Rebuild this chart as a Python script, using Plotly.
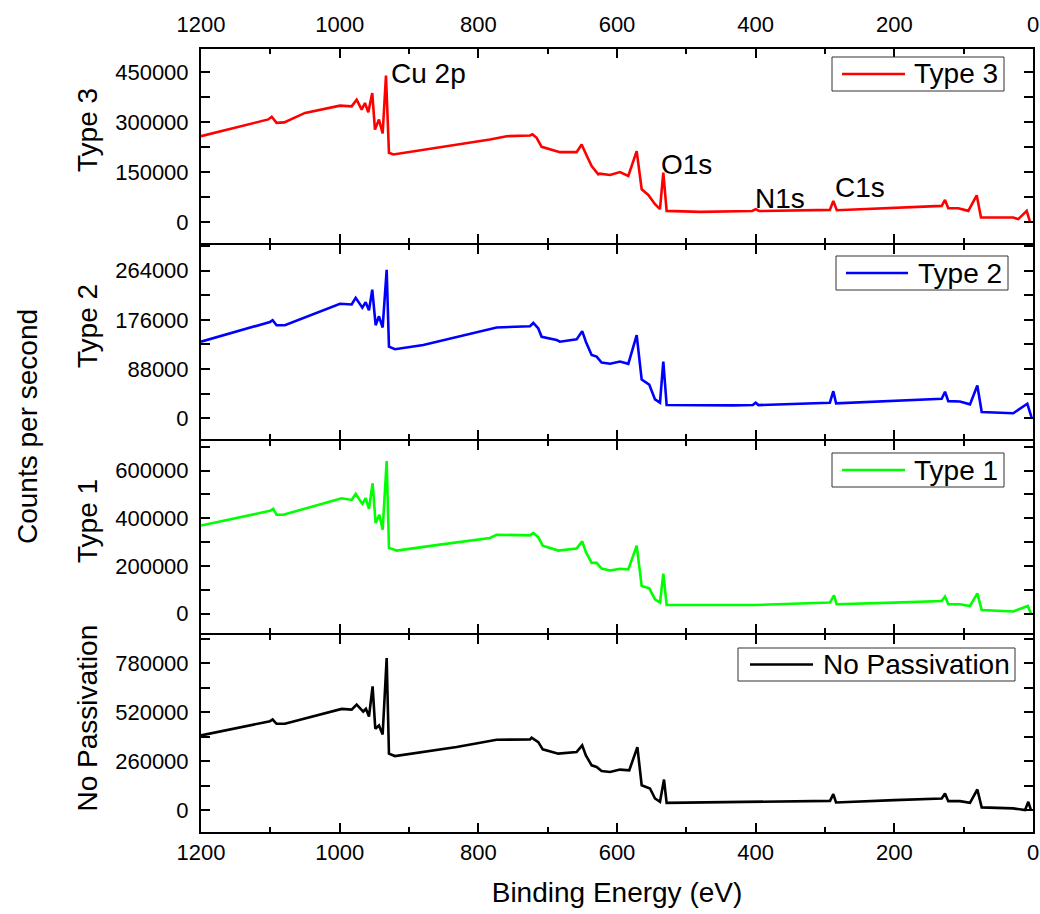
import plotly.graph_objects as go

# ---- XPS survey spectra (binding energy in eV, counts per second) ----
type3_ev = [1200, 1150, 1103, 1098, 1091, 1080, 1050, 999.5, 982.7, 975.5, 968.3, 963.5,
            958.7, 953, 949.1, 943.3, 938, 933.2, 928.9, 922.6, 850, 783.2, 759.1, 725.5,
            722, 715.9, 708.7, 682.3, 658.3, 651, 643.8, 636.6, 627, 625, 610, 595.7, 583.7,
            571.6, 564.4, 554.8, 545.2, 538, 533.2, 528.4, 480, 405, 400, 395, 293, 288,
            283, 200, 131.7, 126.9, 122.2, 107.7, 93.3, 81.2, 75, 28.4, 21.2, 9.1, 4.3]
type3_cps = [257500, 283000, 308000, 316000, 297600, 299000, 327500, 349400, 347300, 367400,
             337400, 357500, 329300, 387400, 277500, 307500, 265600, 440000, 207800, 202700,
             225700, 247600, 257500, 259600, 263000, 252700, 225700, 209600, 209600, 232600,
             199700, 167700, 142800, 145000, 140700, 149700, 137700, 212600, 97900, 80800,
             53000, 38000, 147900, 32900, 30000, 32500, 38000, 32500, 36000, 62900, 35000,
             42000, 47900, 65900, 41000, 41000, 32900, 79900, 13200, 13200, 8100, 32900, 0]

type2_ev = [1200, 1150, 1100.5, 1096.7, 1091, 1079, 1014, 999.5, 982.7, 976.9, 967.3, 962.5,
            957.7, 953, 948.1, 943.3, 938, 932.2, 928.9, 920.3, 879.4, 807.3, 773.6, 725.5,
            720.7, 713.5, 708.7, 687, 682.3, 658.3, 650.2, 644.9, 636.6, 629.4, 622.2, 610,
            595.7, 583.7, 571.6, 564.4, 553.5, 545.2, 538, 533.2, 528.4, 432, 404, 400, 396,
            293, 288, 284, 200, 131.7, 126.9, 122.2, 105.4, 90.9, 80.3, 74, 28.4, 8.2, 2]
type2_cps = [136900, 154600, 172300, 175300, 166400, 166400, 198900, 204800, 203600, 215500,
             197800, 207700, 193000, 230200, 166400, 182400, 162400, 265600, 128000, 123400,
             131000, 151700, 162400, 164700, 170500, 160600, 145700, 139900, 136900, 141100,
             155800, 136900, 113300, 110300, 99700, 97400, 101500, 97400, 148700, 69100,
             60200, 33600, 27800, 101500, 23600, 23000, 23500, 27800, 23500, 27800, 48300,
             26600, 31300, 34900, 47300, 30600, 30000, 24800, 58400, 11200, 8900, 26000, 1200]

type1_ev = [1200, 1150, 1100.5, 1095.8, 1091, 1081.4, 1014, 997.1, 982.7, 976.9, 967.3, 962.5,
            957.7, 952.5, 948.1, 942.8, 938, 932.2, 928.9, 917.8, 855.3, 783.2, 773.6, 725.5,
            720.7, 713.5, 707.1, 684.6, 658.3, 650.2, 644.9, 636.6, 629.4, 622.2, 610, 595.7,
            583.7, 571.6, 564.4, 553.5, 545.2, 538, 533.2, 528.4, 400, 292.8, 287, 283.2,
            200, 131.7, 126.9, 122.2, 105.4, 90.9, 80.3, 74, 28.4, 7.6, 2.9]
type1_cps = [369900, 400800, 431300, 439700, 414600, 414600, 470100, 484300, 477200, 502300,
             460500, 484300, 439700, 547000, 379900, 414600, 352000, 640100, 275600, 264300,
             289300, 317300, 331100, 328200, 338200, 319800, 285200, 264300, 272600, 303100,
             258900, 212900, 212900, 189100, 180800, 187900, 185000, 285200, 115200, 105600,
             59700, 45900, 167000, 35900, 35900, 45900, 76400, 38800, 45900, 52600, 71000,
             38800, 38800, 31700, 84800, 15000, 8400, 31700, 0]

nopass_ev = [1200, 1150, 1100.5, 1096.7, 1091, 1079, 997.1, 982.7, 975.5, 966, 962.1, 957.7,
             952.5, 948.6, 943.3, 938, 932.2, 928.9, 920.3, 831.3, 773.6, 725.5, 723.1, 713.5,
             707.1, 684.6, 658.3, 650.2, 644.9, 636.6, 629.4, 622.2, 610, 595.7, 582.3, 570.6,
             564.4, 552.4, 545.2, 538, 532.2, 528.4, 292.8, 288, 284.1, 200, 131.7, 126.9,
             122.2, 105.4, 90.9, 80.3, 74, 28.4, 11.5, 6.8, 2.9]
nopass_cps = [396300, 435000, 471900, 480900, 458200, 458200, 537400, 533700, 560200, 523200,
              537400, 496800, 656900, 431700, 449200, 401600, 806900, 299600, 287000, 334500,
              373600, 375200, 384200, 361000, 322400, 299600, 308100, 343500, 290700, 237800,
              228800, 207700, 202400, 215100, 211400, 334500, 132100, 114700, 61800, 43900,
              162200, 38600, 49100, 84600, 40700, 52800, 61800, 88300, 47600, 47600, 38600,
              109400, 14300, 9000, 0, 43900, 0]

# panel order from top to bottom
series_names = ["Type 3", "Type 2", "Type 1", "No Passivation"]
series_colors = ["#FF0000", "#0000FF", "#00FF00", "#000000"]
series_ev = [type3_ev, type2_ev, type1_ev, nopass_ev]
series_cps = [type3_cps, type2_cps, type1_cps, nopass_cps]

y_tickvals = [[0, 150000, 300000, 450000],
              [0, 88000, 176000, 264000],
              [0, 200000, 400000, 600000],
              [0, 260000, 520000, 780000]]
y_ranges = [[-63700, 519800], [-37200, 310000], [-81900, 724700], [-116200, 929500]]
x_tickvals = [0, 200, 400, 600, 800, 1000, 1200]

peak_labels = ["Cu 2p", "O1s", "N1s", "C1s"]
peak_label_ev = [929, 539, 404, 289]
peak_label_cps = [445000, 172000, 71000, 103000]

FONT = "Arial, Liberation Sans, sans-serif"
W, H = 1040, 914
L, R, T, B = 201, 7, 49, 82
plot_h = H - T - B
# shared edges are shifted by 1px so neighbouring frame lines coincide
panel_px = [(49, 243), (245, 439), (441, 633), (635, 832)]

# legend boxes: (left, top, right, bottom) in px, sample line (x0, x1), text x
legend_boxes = [(832, 57, 1004, 91), (836, 256, 1008, 290),
                (832, 453, 1004, 487), (738, 648, 1015, 681)]
legend_lines = [(842, 905), (846, 908), (842, 905), (750, 813)]
legend_text_x = [912, 916, 912, 821]


def py(px):
    return (H - B - px) / plot_h


def px_x(px):
    return (px - L) / (W - L - R)


fig = go.Figure()

for i in range(4):
    n = i + 1
    sfx = "" if n == 1 else str(n)
    fig.add_trace(go.Scatter(
        x=series_ev[i], y=series_cps[i], mode="lines", name=series_names[i],
        line=dict(color=series_colors[i], width=2.6),
        xaxis="x" + sfx, yaxis="y" + sfx, showlegend=False,
    ))
    top, bot = panel_px[i]
    xa = dict(
        domain=[0, 1], anchor="y" + sfx, range=[1200, 0], automargin=False,
        tickvals=x_tickvals, ticks="inside", ticklen=9, tickwidth=2,
        minor=dict(dtick=100, tick0=0, ticks="inside", ticklen=5, tickwidth=2,
                   tickcolor="black", showgrid=False),
        showline=True, linewidth=2, linecolor="black", mirror="allticks",
        showgrid=False, zeroline=False, tickcolor="black",
        tickfont=dict(family=FONT, size=22, color="black"),
        showticklabels=(n in (1, 4)), side="top" if n == 1 else "bottom",
        ticklabelstandoff=6 if n == 1 else 0,
    )
    if n == 4:
        xa["title"] = dict(text="Binding Energy (eV)", font=dict(family=FONT, size=28, color="black"),
                           standoff=18)
    ya = dict(
        domain=[py(bot), py(top)], anchor="x" + sfx, range=y_ranges[i], automargin=False,
        tickvals=y_tickvals[i], tickformat="d", ticks="inside", ticklen=9, tickwidth=2,
        minor=dict(dtick=y_tickvals[i][1] / 2, tick0=0, ticks="inside", ticklen=9, tickwidth=2,
                   tickcolor="black", showgrid=False),
        showline=True, linewidth=2, linecolor="black", mirror="allticks",
        showgrid=False, zeroline=False, tickcolor="black",
        tickfont=dict(family=FONT, size=22, color="black"),
        ticklabelstandoff=6,
    )
    fig.layout["xaxis" + sfx] = xa
    fig.layout["yaxis" + sfx] = ya

    # per-panel legend box
    bl, bt, br, bb = legend_boxes[i]
    fig.add_shape(type="rect", xref="paper", yref="paper",
                  x0=px_x(bl), x1=px_x(br), y0=py(bb), y1=py(bt),
                  line=dict(color="#333333", width=1), fillcolor="white", layer="above")
    ymid = (bt + bb) / 2
    lx0, lx1 = legend_lines[i]
    fig.add_shape(type="line", xref="paper", yref="paper",
                  x0=px_x(lx0), x1=px_x(lx1), y0=py(ymid), y1=py(ymid),
                  line=dict(color=series_colors[i], width=2.6), layer="above")
    fig.add_annotation(text=series_names[i], xref="paper", yref="paper",
                       x=px_x(legend_text_x[i]), y=py(ymid), xanchor="left", yanchor="middle",
                       showarrow=False, font=dict(family=FONT, size=28, color="black"))

    # per-panel y label
    fig.add_annotation(
        text=series_names[i], xref="paper", yref="paper",
        x=px_x(87), y=py((top + bot) / 2 - 16), textangle=-90,
        showarrow=False, font=dict(family=FONT, size=28, color="black"),
        xanchor="center", yanchor="middle",
    )

# overall y label
fig.add_annotation(
    text="Counts per second", xref="paper", yref="paper",
    x=px_x(27), y=py(427), textangle=-90, showarrow=False,
    font=dict(family=FONT, size=28, color="black"), xanchor="center", yanchor="middle",
)

# peak assignments on the top spectrum
for lab, ev, cps in zip(peak_labels, peak_label_ev, peak_label_cps):
    fig.add_annotation(
        text=lab, x=ev, y=cps, xref="x", yref="y", showarrow=False,
        xanchor="left", yanchor="middle",
        font=dict(family=FONT, size=28, color="black"),
    )

fig.update_layout(
    width=W, height=H, margin=dict(l=L, r=R, t=T, b=B),
    paper_bgcolor="white", plot_bgcolor="white", showlegend=False,
)

fig.write_html("out.html")
